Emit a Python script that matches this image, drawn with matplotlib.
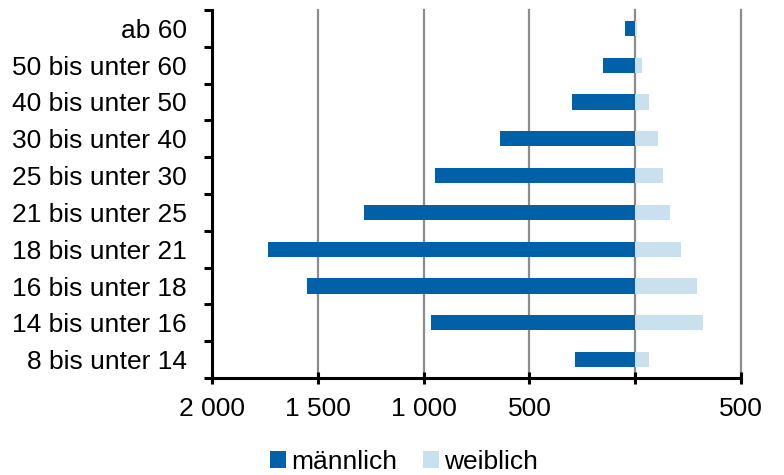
import matplotlib
matplotlib.use("Agg")
from matplotlib import pyplot as plt
from matplotlib.ticker import FuncFormatter, FixedLocator
import numpy as np

plt.rcParams['font.family'] = ['Liberation Sans', 'DejaVu Sans']

# age groups, bottom to top
groups = ["8 bis unter 14", "14 bis unter 16", "16 bis unter 18", "18 bis unter 21",
          "21 bis unter 25", "25 bis unter 30", "30 bis unter 40", "40 bis unter 50",
          "50 bis unter 60", "ab 60"]
maennlich = [285, 965, 1550, 1735, 1280, 945, 640, 300, 150, 46]
weiblich = [66, 322, 290, 217, 163, 130, 106, 63, 32, 8]

col_m = "#0061a8"
col_w = "#c9e0ee"
fs = 19

fig = plt.figure(figsize=(7.84, 4.75), dpi=100)
ax = fig.add_axes([212 / 784, 1 - 378 / 475, (741 - 212) / 784, (378 - 10) / 475])

y = np.arange(len(groups))
ax.barh(y, -np.array(maennlich), height=0.41, color=col_m, label="männlich", zorder=3)
ax.barh(y, weiblich, height=0.41, color=col_w, label="weiblich", zorder=3)

ax.set_xlim(-2000, 500)
ax.set_ylim(-0.5, len(groups) - 0.5)

# vertical gridlines every 500
for gx in range(-1500, 501, 500):
    ax.axvline(gx, color="#8c8c8c", lw=1.6, zorder=1, clip_on=False)

ax.xaxis.set_major_locator(FixedLocator(range(-2000, 501, 500)))
ax.xaxis.set_major_formatter(FuncFormatter(
    lambda v, p: "" if v == 0 else f"{abs(int(v)):,}".replace(",", " ")))

ax.set_yticks(y)
ax.set_yticklabels(groups)
ax.set_yticks(np.arange(-0.5, len(groups)), minor=True)

for s in ["top", "right"]:
    ax.spines[s].set_visible(False)
for s in ["left", "bottom"]:
    ax.spines[s].set_linewidth(2.2)
    ax.spines[s].set_color("black")
    ax.spines[s].set_zorder(4)

ax.tick_params(axis="y", which="major", length=0, pad=18, labelsize=fs)
ax.tick_params(axis="y", which="minor", direction="out", length=5.5, width=2.2)
ax.tick_params(axis="x", which="major", direction="inout", length=8, width=2.2,
               pad=10, labelsize=fs)

fig.legend(loc="center", bbox_to_anchor=(404 / 784, 1 - 462 / 475), ncol=2,
           frameon=False, fontsize=fs, handlelength=0.6, handleheight=0.6,
           handletextpad=0.2, columnspacing=1.0, borderaxespad=0)

fig.savefig("out.png", dpi=100)
